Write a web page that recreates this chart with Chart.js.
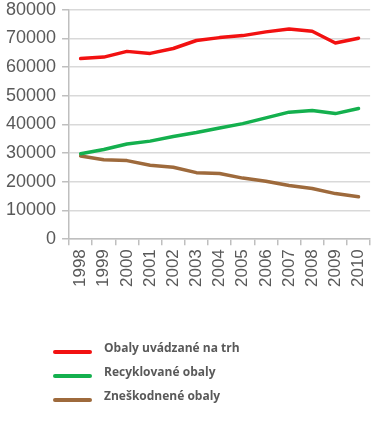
<!DOCTYPE html>
<html>
<head>
<meta charset="utf-8">
<script src="https://cdn.jsdelivr.net/npm/chart.js@4/dist/chart.umd.min.js"></script>
<style>
html,body{margin:0;padding:0;background:#fff;overflow:hidden;}
#wrap{width:383px;height:426px;position:relative;overflow:hidden;}
#c{position:absolute;left:0;top:-7px;}
</style>
</head>
<body>
<div id="wrap"><canvas id="c" width="383" height="433"></canvas></div>
<script>
const years = ["1998","1999","2000","2001","2002","2003","2004","2005","2006","2007","2008","2009","2010"];
const seriesNames = ["Obaly uvádzané na trh","Recyklované obaly","Zneškodnené obaly"];
const marketed = [63000,63500,65500,64800,66500,69300,70300,71000,72300,73300,72500,68400,70100];
const recycled = [29800,31300,33200,34200,35800,37200,38800,40300,42300,44300,44900,43800,45600];
const disposed = [29000,27700,27400,25800,25100,23200,22900,21300,20200,18700,17700,15900,14800];
const yTicks = [0,10000,20000,30000,40000,50000,60000,70000,80000];
const colors = ["#f21111","#14b04e","#9e6a3c"];

const legendPlugin = {
  id: 'vlegend',
  afterDraw(chart) {
    const ctx = chart.ctx;
    const items = chart.options.plugins.legend.labels.generateLabels(chart);
    ctx.save();
    items.forEach((it, i) => {
      const y = 359 + i * 24;
      ctx.strokeStyle = it.strokeStyle;
      ctx.lineWidth = 4;
      ctx.lineCap = 'round';
      ctx.beginPath();
      ctx.moveTo(55, y);
      ctx.lineTo(90, y);
      ctx.stroke();
      ctx.fillStyle = '#595959';
      ctx.font = 'bold 12px "Open Sans", sans-serif';
      ctx.textBaseline = 'middle';
      ctx.fillText(it.text, 104, y - 3);
    });
    ctx.restore();
  }
};

new Chart(document.getElementById('c'), {
  type: 'line',
  data: {
    labels: years,
    datasets: [
      {label: seriesNames[0], data: marketed, borderColor: colors[0], backgroundColor: colors[0]},
      {label: seriesNames[1], data: recycled, borderColor: colors[1], backgroundColor: colors[1]},
      {label: seriesNames[2], data: disposed, borderColor: colors[2], backgroundColor: colors[2]}
    ]
  },
  options: {
    responsive: false,
    animation: false,
    devicePixelRatio: 1,
    layout: {padding: {top: 0, right: 2, bottom: 135, left: 0}},
    elements: {
      line: {borderWidth: 3.5, tension: 0, borderCapStyle: 'round', borderJoinStyle: 'round'},
      point: {radius: 0, hoverRadius: 0}
    },
    plugins: {legend: {display: false}, tooltip: {enabled: false}},
    scales: {
      x: {
        offset: true,
        grid: {offset: true, drawOnChartArea: false, drawTicks: true, tickLength: 6, color: '#bfbfbf', lineWidth: 1.5},
        border: {color: '#bfbfbf', width: 1.5},
        ticks: {minRotation: 90, maxRotation: 90, color: '#595959', font: {family: 'Liberation Sans', size: 17}, padding: 4, autoSkip: false}
      },
      y: {
        min: 0, max: 80000,
        afterBuildTicks(axis) { axis.ticks = yTicks.map(v => ({value: v})); },
        grid: {color: '#d9d9d9', lineWidth: 1.5, tickLength: 7, tickColor: '#bfbfbf'},
        border: {color: '#bfbfbf', width: 1.5},
        ticks: {color: '#595959', font: {family: 'Liberation Sans', size: 18}, padding: 6, callback: v => String(v)}
      }
    }
  },
  plugins: [legendPlugin]
});
</script>
</body>
</html>
